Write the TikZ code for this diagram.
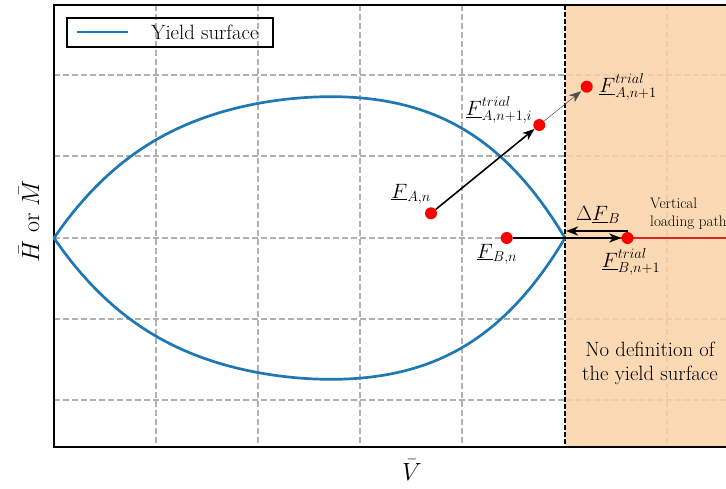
\documentclass[tikz,border=0pt]{standalone}
\usetikzlibrary{arrows.meta}
\definecolor{tabblue}{RGB}{31,119,180}
\definecolor{tabred}{RGB}{214,39,40}
\definecolor{gridgray}{RGB}{176,176,176}
\definecolor{peach}{RGB}{252,210,168}
\tikzset{
  gridline/.style={gridgray, line width=1.1pt, dash pattern=on 5.5pt off 3.5pt},
  yieldline/.style={tabblue, line width=2.7pt},
  dot/.style={circle, fill=red, inner sep=0pt, minimum size=12pt},
  lbl/.style={font=\fontsize{21.5}{25}\selectfont, inner sep=0pt},
  small/.style={font=\fontsize{15.2}{18.5}\selectfont, inner sep=0pt, align=left},
  mid/.style={font=\fontsize{20.7}{24}\selectfont, inner sep=0pt, align=center},
  axl/.style={font=\fontsize{24}{28}\selectfont, inner sep=0pt},
  thickarrow/.style={line width=1.6pt, -{Stealth[length=12pt, width=9pt, inset=3.5pt]}},
  thinarrow/.style={line width=0.5pt, black!70, -{Stealth[length=12pt, width=9pt, inset=3.5pt]}, shorten >=1pt},
}
\begin{document}
\begin{tikzpicture}[x=1pt, y=-1pt]
\useasboundingbox (0,0) rectangle (726,488);
% grid
\foreach \gx in {156,258,360,462,667} \draw[gridline] (\gx,5) -- (\gx,447);
\foreach \gy in {75,156,238,319,400} \draw[gridline] (54,\gy) -- (726,\gy);
% no-definition region
\fill[peach, opacity=0.85] (565,5) rectangle (726,447);
% frame
\draw[line width=1.5pt] (726,5) -- (54,5) -- (54,447) -- (726,447);
% boundary
\draw[line width=2.2pt, dash pattern=on 4.5pt off 2.5pt] (565,5) -- (565,447);
% yield surface
\draw[yieldline, line join=round]
  plot[domain=0:1, samples=201] ({54+511*\x},{238-141.6*\x*(1-\x)*(5.25-5.9*\x+6.7*\x*\x)})
  -- plot[domain=1:0, samples=201] ({54+511*\x},{238+141.6*\x*(1-\x)*(5.25-5.9*\x+6.7*\x*\x)})
  -- cycle;
% vertical loading path
\coordinate (vstart) at (565,238);
\coordinate (vend) at (726,238);
\draw[tabred, line width=2.2pt] (vstart) -- (vend);
% points
\node[dot] (fan) at (431,213.3) {};
\node[dot] (fai) at (539.3,125) {};
\node[dot] (fa1) at (586.7,86.7) {};
\node[dot] (fbn) at (506.7,238) {};
\node[dot] (fb1) at (627.5,238) {};
% arrows
\draw[thickarrow] (fan) -- (fai);
\draw[thinarrow] (fai) -- (fa1);
\draw[thickarrow] (fbn) -- (fb1);
\coordinate (dbs) at (628,231);
\coordinate (dbe) at (566,231);
\draw[thickarrow] (dbs) -- (dbe);
% labels
\node[lbl] (lfan) at (411,194) {$\underline{F}_{A,n}$};
\node[lbl] (lfai) at (499,110) {$\underline{F}^{trial}_{A,n+1,i}$};
\node[lbl] (lfa1) at (628,87) {$\underline{F}^{trial}_{A,n+1}$};
\node[lbl] (lfbn) at (497,254) {$\underline{F}_{B,n}$};
\node[lbl] (ldfb) at (598,215) {$\Delta\underline{F}_{B}$};
\node[lbl] (lfb1) at (631,262) {$\underline{F}^{trial}_{B,n+1}$};
\node[small, anchor=west] (lvert) at (650,214) {Vertical\\loading path};
\node[mid] (lnodef) at (650,363) {No definition of\\the yield surface};
% legend
\node[draw, line width=1.3pt, minimum width=206pt, minimum height=29pt, inner sep=0pt] (legend) at (170,32.5) {};
\coordinate (lega) at (77,32);
\coordinate (legb) at (128,32);
\draw[yieldline] (lega) -- (legb);
\node[font=\fontsize{20.7}{24}\selectfont, anchor=west, inner sep=0pt] (legtext) at (151,32) {Yield surface};
% axis labels
\node[axl] (xlab) at (412,470) {$\bar{V}$};
\node[axl, rotate=90] (ylab) at (29,221) {$\bar{H}$ or $\bar{M}$};
\end{tikzpicture}
\end{document}
